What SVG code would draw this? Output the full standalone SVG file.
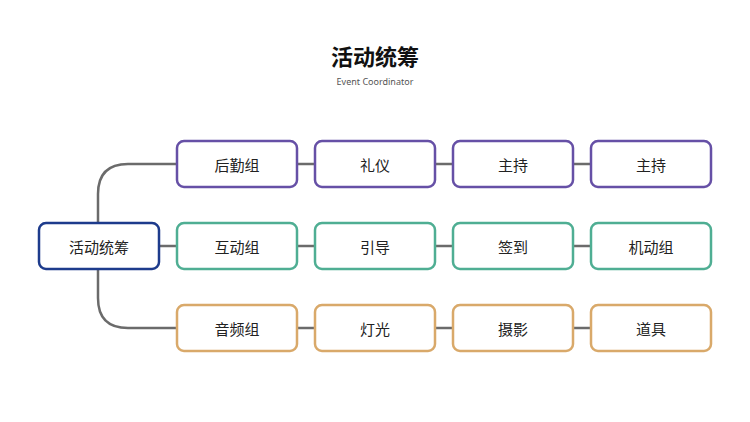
<svg xmlns="http://www.w3.org/2000/svg" width="750" height="422" viewBox="0 0 750 422">
<style>
.n rect{fill:#fff;stroke-width:2.5}
.t{font-family:"Noto Sans CJK SC",sans-serif;font-size:15px;fill:#222;text-anchor:middle;dominant-baseline:central}
.p rect{stroke:#6650a6}.g rect{stroke:#4fae93}.o rect{stroke:#d9a96a}
#root rect{stroke:#1d3b8c}
#edges path{fill:none;stroke:#6b6b6b;stroke-width:2.5}
</style>
<rect width="750" height="422" fill="#fff"/>
<text x="375" y="55" font-family="'Noto Sans CJK SC',sans-serif" font-weight="bold" font-size="22" text-anchor="middle" dominant-baseline="central" fill="#111">活动统筹</text>
<text x="375" y="81" font-family="'Noto Sans',sans-serif" font-size="9" text-anchor="middle" dominant-baseline="central" fill="#555">Event Coordinator</text>
<g id="edges">
<path d="M98 223 V194 Q98 164 128 164 H177"/>
<path d="M98 269 V298 Q98 328 128 328 H177"/>
<path d="M159 246 H177"/>
<path d="M297 164 H315 M435 164 H453 M573 164 H591"/>
<path d="M297 246 H315 M435 246 H453 M573 246 H591"/>
<path d="M297 328 H315 M435 328 H453 M573 328 H591"/>
</g>
<g id="root" class="n"><rect x="39" y="223" width="120" height="46" rx="7"/><text class="t" x="99" y="246">活动统筹</text></g>
<g id="n11" class="n p"><rect x="177" y="141" width="120" height="46" rx="7"/><text class="t" x="237" y="164">后勤组</text></g>
<g id="n12" class="n p"><rect x="315" y="141" width="120" height="46" rx="7"/><text class="t" x="375" y="164">礼仪</text></g>
<g id="n13" class="n p"><rect x="453" y="141" width="120" height="46" rx="7"/><text class="t" x="513" y="164">主持</text></g>
<g id="n14" class="n p"><rect x="591" y="141" width="120" height="46" rx="7"/><text class="t" x="651" y="164">主持</text></g>
<g id="n21" class="n g"><rect x="177" y="223" width="120" height="46" rx="7"/><text class="t" x="237" y="246">互动组</text></g>
<g id="n22" class="n g"><rect x="315" y="223" width="120" height="46" rx="7"/><text class="t" x="375" y="246">引导</text></g>
<g id="n23" class="n g"><rect x="453" y="223" width="120" height="46" rx="7"/><text class="t" x="513" y="246">签到</text></g>
<g id="n24" class="n g"><rect x="591" y="223" width="120" height="46" rx="7"/><text class="t" x="651" y="246">机动组</text></g>
<g id="n31" class="n o"><rect x="177" y="305" width="120" height="46" rx="7"/><text class="t" x="237" y="328">音频组</text></g>
<g id="n32" class="n o"><rect x="315" y="305" width="120" height="46" rx="7"/><text class="t" x="375" y="328">灯光</text></g>
<g id="n33" class="n o"><rect x="453" y="305" width="120" height="46" rx="7"/><text class="t" x="513" y="328">摄影</text></g>
<g id="n34" class="n o"><rect x="591" y="305" width="120" height="46" rx="7"/><text class="t" x="651" y="328">道具</text></g>
</svg>
